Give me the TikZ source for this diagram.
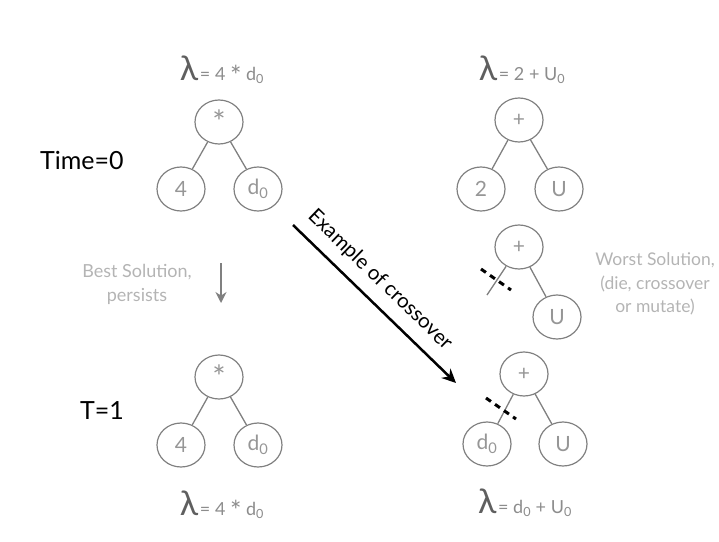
\documentclass[tikz,border=0pt]{standalone}
\usepackage{fontspec}
\setmainfont{Lato}
\usetikzlibrary{shapes.geometric,arrows.meta}
\definecolor{circ}{RGB}{128,128,128}
\definecolor{ntext}{RGB}{150,150,150}
\definecolor{ltext}{RGB}{140,140,140}
\definecolor{lam}{RGB}{95,95,95}
\definecolor{pale}{RGB}{180,180,180}
\newcommand\subz{\textsubscript{0}}
\newcommand\bigstar{\raisebox{-0.28em}{\scalebox{1.5}{*}}}
\newcommand\lamlab[1]{{\color{lam}\fontsize{34}{34}\selectfont λ}\,{\color{ltext}\fontsize{18}{20}\selectfont #1}}
\begin{document}
\begin{tikzpicture}[x=1pt,y=-1pt,
  tn/.style={ellipse,draw=circ,line width=1.2pt,minimum width=48pt,minimum height=44pt,inner sep=0pt,text=ntext,font=\fontsize{21}{24}\selectfont},
  edge/.style={draw=circ,line width=1.3pt},
  cut/.style={draw=black,line width=3pt,dash pattern=on 6pt off 5pt},
  lab/.style={inner sep=0pt,anchor=base},
  pl/.style={text=pale,align=center,font=\fontsize{17.5}{23.5}\selectfont,inner sep=0pt}]
\useasboundingbox (0,0) rectangle (719,541);
% top-left tree
\node[lab] (lab1) at (222,80) {\lamlab{= 4 \bigstar{} d\subz}};
\node[tn] (r1) at (219,122) {\bigstar};
\node[tn] (a1) at (181,189) {4};
\node[tn] (b1) at (258,189) {d\subz};
\draw[edge] (r1) -- (a1);
\draw[edge] (r1) -- (b1);
% top-right tree
\node[lab] (lab2) at (522,80) {\lamlab{= 2 + U\subz}};
\node[tn] (r2) at (519,120) {+};
\node[tn] (a2) at (481,189) {2};
\node[tn] (b2) at (559,189) {U};
\draw[edge] (r2) -- (a2);
\draw[edge] (r2) -- (b2);
% middle-right tree
\node[tn] (r3) at (519,247) {+};
\node[tn] (b3) at (557,317) {U};
\coordinate (s3) at (487,295);
\draw[edge] (r3) -- (s3);
\draw[edge] (r3) -- (b3);
\coordinate (c3a) at (481,269);
\coordinate (c3b) at (511,290);
\draw[cut] (c3a) -- (c3b);
\node[pl] (worst) at (655,284) {Worst Solution,\\(die, crossover\\or mutate)};
% bottom-left tree
\node[tn] (r4) at (219,377) {\bigstar};
\node[tn] (a4) at (181,445) {4};
\node[tn] (b4) at (258,445) {d\subz};
\draw[edge] (r4) -- (a4);
\draw[edge] (r4) -- (b4);
\node[lab] (lab4) at (222,515) {\lamlab{= 4 \bigstar{} d\subz}};
% bottom-right tree
\node[tn] (r5) at (524,374) {+};
\node[tn] (a5) at (487,444) {d\subz};
\node[tn] (b5) at (563,444) {U};
\draw[edge] (r5) -- (a5);
\draw[edge] (r5) -- (b5);
\coordinate (c5a) at (486,398);
\coordinate (c5b) at (516,419);
\draw[cut] (c5a) -- (c5b);
\node[lab] (lab5) at (525,513) {\lamlab{= d\subz{} + U\subz}};
% time labels
\node[anchor=west,inner sep=0pt,font=\fontsize{25}{28}\selectfont] (t0) at (40,160) {Time=0};
\node[anchor=west,inner sep=0pt,font=\fontsize{25}{28}\selectfont] (t1) at (80,411) {T=1};
% best solution
\node[pl,font=\fontsize{18}{24}\selectfont] (best) at (137,284) {Best Solution,\\persists};
\coordinate (ba) at (221,263);
\coordinate (bb) at (221,303);
\draw[draw=circ,line width=2.5pt,-{Stealth[length=11pt,width=11pt]}] (ba) -- (bb);
% crossover arrow
\coordinate (xa) at (293,225);
\coordinate (xb) at (456,383);
\draw[line width=2.5pt,-{Stealth[length=14pt,width=13pt]}] (xa) -- (xb);
\node[rotate=-44,font=\fontsize{20.5}{22}\selectfont,inner sep=0pt] (xl) at (380,280) {Example of crossover};
\end{tikzpicture}
\end{document}
